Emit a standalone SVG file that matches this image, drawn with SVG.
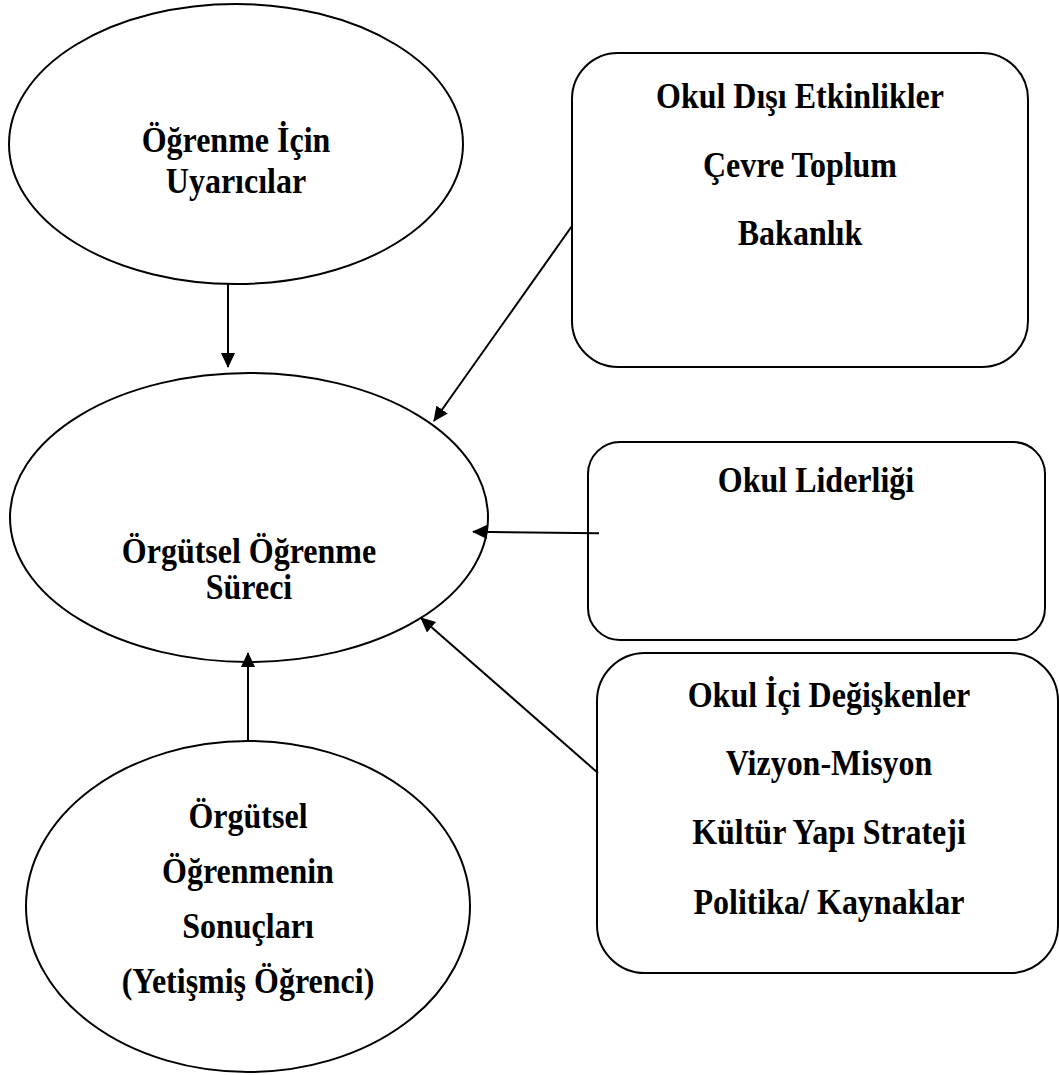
<svg xmlns="http://www.w3.org/2000/svg" width="1059" height="1075" viewBox="0 0 1059 1075">
  <style>
    .shape { fill: #ffffff; stroke: #000000; stroke-width: 2; }
    .label { font-family: "Liberation Serif", "Times New Roman", serif; font-weight: bold; font-size: 32px; fill: #000000; text-anchor: middle; }
    .link { fill: none; stroke: #000000; stroke-width: 2; marker-end: url(#arrow); }
  </style>
  <defs>
    <marker id="arrow" viewBox="0 0 15 14" refX="14" refY="7" markerWidth="15" markerHeight="14" markerUnits="userSpaceOnUse" orient="auto">
      <path d="M0,0 L15,7 L0,14 Z" fill="#000000"/>
    </marker>
  </defs>
  <rect width="1059" height="1075" fill="#ffffff"/>

  <!-- stimuli for learning -->
  <g id="uyaricilar">
    <ellipse class="shape" cx="236" cy="144" rx="227" ry="140"/>
    <text class="label" transform="translate(236 152) scale(1 1.1)">Öğrenme İçin</text>
    <text class="label" transform="translate(236 193) scale(1 1.1)">Uyarıcılar</text>
  </g>

  <!-- external factors -->
  <g id="okul-disi">
    <rect class="shape" x="572" y="53" width="456" height="314" rx="46" ry="46"/>
    <text class="label" transform="translate(800 108) scale(1 1.1)">Okul Dışı Etkinlikler</text>
    <text class="label" transform="translate(800 177) scale(1 1.1)">Çevre Toplum</text>
    <text class="label" transform="translate(800 245) scale(1 1.1)">Bakanlık</text>
  </g>

  <!-- central process -->
  <g id="surec">
    <ellipse class="shape" cx="249" cy="517.5" rx="239" ry="144.5"/>
    <text class="label" transform="translate(249 563) scale(1 1.1)">Örgütsel Öğrenme</text>
    <text class="label" transform="translate(249 599) scale(1 1.1)">Süreci</text>
  </g>

  <!-- school leadership -->
  <g id="liderlik">
    <rect class="shape" x="588" y="442" width="457" height="198" rx="32" ry="32"/>
    <text class="label" transform="translate(816 492) scale(1 1.1)">Okul Liderliği</text>
  </g>

  <!-- internal variables -->
  <g id="okul-ici">
    <rect class="shape" x="597" y="653" width="461" height="320" rx="48" ry="48"/>
    <text class="label" transform="translate(829 707) scale(1 1.1)">Okul İçi Değişkenler</text>
    <text class="label" transform="translate(829 775) scale(1 1.1)">Vizyon-Misyon</text>
    <text class="label" transform="translate(829 844) scale(1 1.1)">Kültür Yapı Strateji</text>
    <text class="label" transform="translate(829 914) scale(1 1.1)">Politika/ Kaynaklar</text>
  </g>

  <!-- outcomes -->
  <g id="sonuclar">
    <ellipse class="shape" cx="248" cy="906.5" rx="222" ry="165.5"/>
    <text class="label" transform="translate(248 828) scale(1 1.1)">Örgütsel</text>
    <text class="label" transform="translate(248 883) scale(1 1.1)">Öğrenmenin</text>
    <text class="label" transform="translate(248 938) scale(1 1.1)">Sonuçları</text>
    <text class="label" transform="translate(248 993) scale(1 1.1)">(Yetişmiş Öğrenci)</text>
  </g>

  <!-- connectors -->
  <g id="connectors">
    <line class="link" x1="228" y1="284" x2="228" y2="367"/>
    <line class="link" x1="572" y1="226" x2="434" y2="421"/>
    <line class="link" x1="599" y1="533.3" x2="473" y2="531.7"/>
    <line class="link" x1="598" y1="773" x2="421" y2="618"/>
    <line class="link" x1="248" y1="741" x2="248" y2="653"/>
  </g>
</svg>
